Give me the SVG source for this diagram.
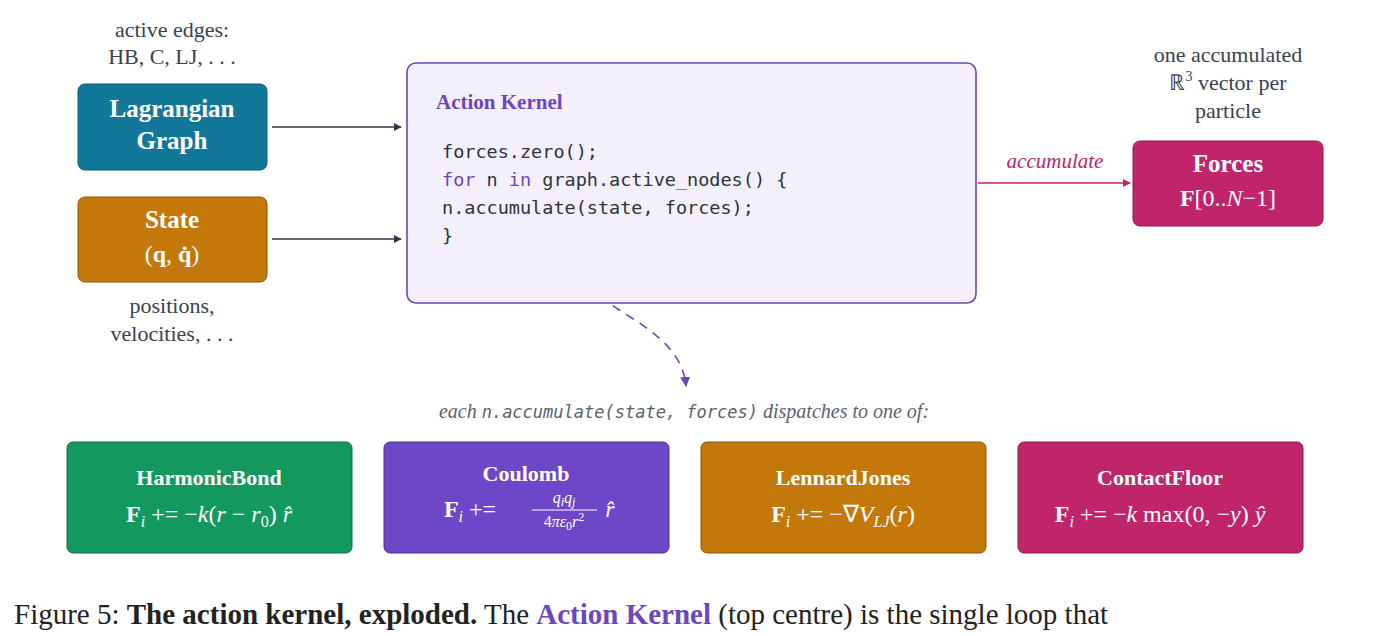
<svg xmlns="http://www.w3.org/2000/svg" width="1400" height="636" viewBox="0 0 1400 636">
<style>
.t{font-family:"Liberation Serif",serif;}
.n{font-family:"Liberation Serif",serif;fill:#fff;text-anchor:middle;}
.b{font-weight:bold;font-size:25px;}
.m{font-size:24px;}
.lbl{font-family:"Liberation Serif",serif;fill:#3a4250;font-size:22px;text-anchor:middle;}
.code{font-family:"DejaVu Sans Mono","Liberation Mono",monospace;font-size:18.5px;fill:#2d3340;}
.kw{fill:#6b46c1;}
</style>
<defs>
<marker id="ad" viewBox="0 0 10 10" refX="9" refY="5" markerWidth="8" markerHeight="8" orient="auto" markerUnits="userSpaceOnUse"><path d="M0,0 L10,5 L0,10 z" fill="#2d3748"/></marker>
<marker id="am" viewBox="0 0 10 10" refX="9" refY="5" markerWidth="8" markerHeight="8" orient="auto" markerUnits="userSpaceOnUse"><path d="M0,0 L10,5 L0,10 z" fill="#c0246a"/></marker>
<marker id="ap" viewBox="0 0 10 10" refX="9" refY="5" markerWidth="10" markerHeight="10" orient="auto" markerUnits="userSpaceOnUse"><path d="M0,0 L10,5 L0,10 z" fill="#6b46c1"/></marker>
</defs>
<rect width="1400" height="636" fill="#fff"/>
<g id="connectors" fill="none" stroke-width="1.6">
<line x1="272" y1="127" x2="401" y2="127" stroke="#2d3748" marker-end="url(#ad)"/>
<line x1="272" y1="239" x2="401" y2="239" stroke="#2d3748" marker-end="url(#ad)"/>
<line x1="978" y1="183" x2="1130" y2="183" stroke="#c0246a" marker-end="url(#am)"/>
<text x="1055" y="168" class="t" font-size="21" font-style="italic" fill="#c0246a" text-anchor="middle" stroke="none">accumulate</text>
<path d="M573,258 C580,310 680,320 686,386" stroke="#6b46c1" stroke-dasharray="9,7" marker-end="url(#ap)"/>
</g>
<g id="lagrangian">
<rect x="78" y="84" width="189" height="86" rx="7" fill="#11789a" stroke="#0c5a73"/>
<text x="172" y="117" class="n b">Lagrangian</text>
<text x="172" y="149" class="n b">Graph</text>
<text x="172" y="37" class="lbl">active edges:</text>
<text x="172" y="64" class="lbl">HB, C, LJ, . . .</text>
</g>
<g id="state">
<rect x="78" y="197" width="189" height="85" rx="7" fill="#c4780a" stroke="#8a5406"/>
<text x="172" y="228" class="n b">State</text>
<text x="172" y="262" class="n m">(<tspan font-weight="bold">q</tspan>, <tspan font-weight="bold">q̇</tspan>)</text>
<text x="172" y="313" class="lbl">positions,</text>
<text x="172" y="341" class="lbl">velocities, . . .</text>
</g>
<g id="kernel">
<rect x="407" y="63" width="569" height="240" rx="9" fill="#f3f0fb" stroke="#6b46c1" stroke-width="1.6"/>
<text x="436" y="109" class="t" font-size="21" font-weight="bold" fill="#6b46c1">Action Kernel</text>
<text x="442" y="158" class="code">forces.zero();</text>
<text x="442" y="186" class="code"><tspan class="kw">for</tspan> n <tspan class="kw">in</tspan> graph.active_nodes() {</text>
<text x="442" y="214" class="code">    n.accumulate(state, forces);</text>
<text x="442" y="242" class="code">}</text>
</g>
<g id="forces">
<rect x="1133" y="141" width="190" height="85" rx="7" fill="#c0246a" stroke="#8a1a4c"/>
<text x="1228" y="172" class="n b">Forces</text>
<text x="1228" y="206" class="n m"><tspan font-weight="bold">F</tspan>[0..<tspan font-style="italic">N</tspan>−1]</text>
<text x="1228" y="62" class="lbl">one accumulated</text>
<text x="1228" y="90" class="lbl">ℝ<tspan font-size="14" dy="-9">3</tspan><tspan dy="9"> vector per</tspan></text>
<text x="1228" y="118" class="lbl">particle</text>
</g>
<text x="684" y="418" class="t" font-size="20" font-style="italic" fill="#5a6270" text-anchor="middle">each <tspan font-family="DejaVu Sans Mono,monospace" font-size="17">n.accumulate(state, forces)</tspan> dispatches to one of:</text>
<g id="harmonic">
<rect x="67" y="442" width="285" height="111" rx="6" fill="#13995f" stroke="#0d6e44"/>
<text x="209" y="485" class="n" font-size="22" font-weight="bold">HarmonicBond</text>
<text x="209" y="522" class="n m"><tspan font-weight="bold">F</tspan><tspan font-style="italic" font-size="16" dy="5">i</tspan><tspan dy="-5"> += −</tspan><tspan font-style="italic">k</tspan>(<tspan font-style="italic">r</tspan> − <tspan font-style="italic">r</tspan><tspan font-size="16" dy="5">0</tspan><tspan dy="-5">) </tspan><tspan font-style="italic">r̂</tspan></text>
</g>
<g id="coulomb">
<rect x="384" y="442" width="285" height="111" rx="6" fill="#6e47c8" stroke="#4e2f99"/>
<text x="526" y="481" class="n" font-size="22" font-weight="bold">Coulomb</text>
<text x="470" y="517" class="n m"><tspan font-weight="bold">F</tspan><tspan font-style="italic" font-size="16" dy="5">i</tspan><tspan dy="-5"> +=</tspan></text>
<text x="564" y="503" class="n" font-size="16" font-style="italic">q<tspan font-size="12" dy="3">i</tspan><tspan dy="-3">q</tspan><tspan font-size="12" dy="3">j</tspan></text>
<line x1="532" y1="510" x2="597" y2="510" stroke="#fff" stroke-width="1"/>
<text x="564" y="527" class="n" font-size="16">4<tspan font-style="italic">πε</tspan><tspan font-size="12" dy="3">0</tspan><tspan dy="-3" font-style="italic">r</tspan><tspan font-size="12" dy="-6">2</tspan></text>
<text x="610" y="517" class="n m" font-style="italic">r̂</text>
</g>
<g id="lennard">
<rect x="701" y="442" width="285" height="111" rx="6" fill="#c4780a" stroke="#8a5406"/>
<text x="843" y="485" class="n" font-size="22" font-weight="bold">LennardJones</text>
<text x="843" y="522" class="n m"><tspan font-weight="bold">F</tspan><tspan font-style="italic" font-size="16" dy="5">i</tspan><tspan dy="-5"> += −∇</tspan><tspan font-style="italic">V</tspan><tspan font-style="italic" font-size="16" dy="5">LJ</tspan><tspan dy="-5">(</tspan><tspan font-style="italic">r</tspan>)</text>
</g>
<g id="contact">
<rect x="1018" y="442" width="285" height="111" rx="6" fill="#c0246a" stroke="#8a1a4c"/>
<text x="1160" y="485" class="n" font-size="22" font-weight="bold">ContactFloor</text>
<text x="1160" y="522" class="n m"><tspan font-weight="bold">F</tspan><tspan font-style="italic" font-size="16" dy="5">i</tspan><tspan dy="-5"> += −</tspan><tspan font-style="italic">k</tspan> max(0, −<tspan font-style="italic">y</tspan>) <tspan font-style="italic">ŷ</tspan></text>
</g>
<text x="14" y="624" class="t" font-size="29" fill="#222">Figure 5: <tspan font-weight="bold">The action kernel, exploded.</tspan> The <tspan font-weight="bold" fill="#6b46c1">Action Kernel</tspan> (top centre) is the single loop that</text>
</svg>
